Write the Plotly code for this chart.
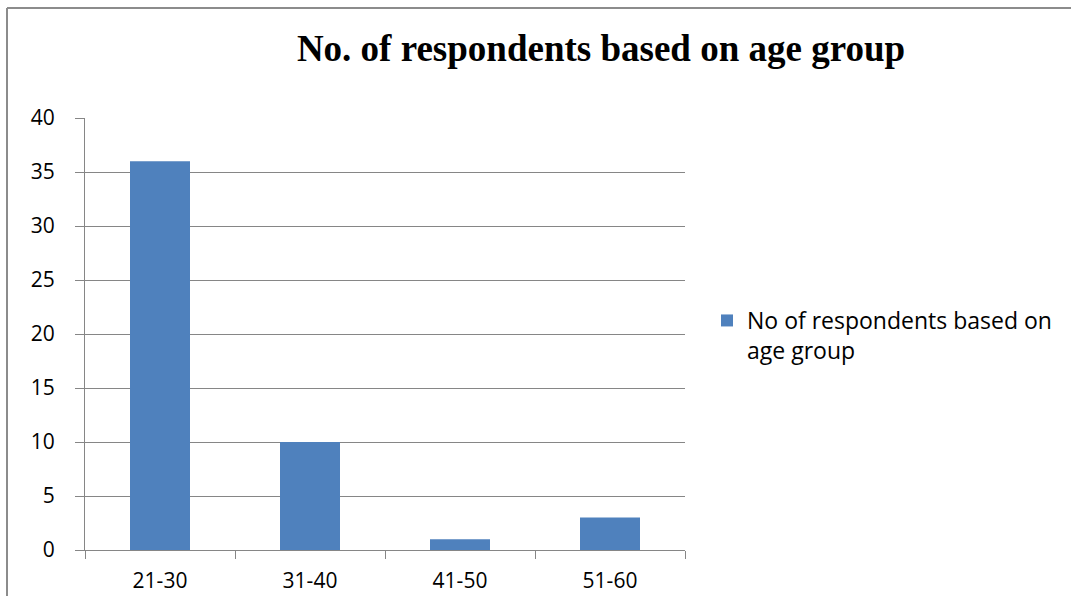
import plotly.graph_objects as go

# Survey counts per age group
age_groups = ["21-30", "31-40", "41-50", "51-60"]
respondents = [36, 10, 1, 3]
y_ticks = [0, 5, 10, 15, 20, 25, 30, 35, 40]

series_name = "No of respondents based on<br>age group"
chart_title = "<b>No. of respondents based on age group</b>"

W, H = 1071, 596
L, R, T, B = 85, 386, 118, 46          # plot area: x 85..685, y 118..550
pw, ph = W - L - R, H - T - B

def px_x(x):
    return (x - L) / pw

def px_y(y):
    return (H - B - y) / ph

grid = "#868686"
sans = "Open Sans, Noto Sans, sans-serif"

fig = go.Figure(
    go.Bar(
        x=age_groups,
        y=respondents,
        name=series_name,
        marker=dict(color="#4F81BD", line=dict(width=0)),
        showlegend=True,
    )
)

fig.update_layout(
    width=W,
    height=H,
    margin=dict(l=L, r=R, t=T, b=B, autoexpand=False),
    paper_bgcolor="white",
    plot_bgcolor="white",
    bargap=0.6,
    font=dict(family=sans, size=21, color="black"),
    title=dict(
        text=chart_title,
        font=dict(family="Liberation Serif, Times New Roman, serif", size=37, color="black"),
        x=px_x(601),
        xref="paper",
        xanchor="center",
        y=1 - 48 / H,
        yref="container",
        yanchor="middle",
    ),
    legend=dict(
        x=px_x(707),
        y=px_y(299),
        xanchor="left",
        yanchor="top",
        valign="top",
        font=dict(family=sans, size=23, color="black"),
        bgcolor="rgba(0,0,0,0)",
        itemclick=False,
    ),
    xaxis=dict(
        type="category",
        automargin=False,
        showgrid=False,
        showline=True,
        linecolor=grid,
        linewidth=1,
        ticks="outside",
        tickson="boundaries",
        ticklen=8,
        tickcolor=grid,
        ticklabelstandoff=12,
        tickfont=dict(family=sans, size=21),
    ),
    yaxis=dict(
        range=[0, 40],
        tickvals=y_ticks,
        automargin=False,
        showgrid=True,
        gridcolor=grid,
        gridwidth=1,
        showline=True,
        linecolor=grid,
        linewidth=1,
        ticks="outside",
        ticklen=9,
        tickcolor=grid,
        ticklabelstandoff=16,
        zeroline=False,
        tickfont=dict(family=sans, size=21),
    ),
    shapes=[
        # chart frame: left and top edges
        dict(type="line", xref="paper", yref="paper",
             x0=px_x(7), x1=px_x(7), y0=px_y(600), y1=px_y(8),
             line=dict(color="#8c8c8c", width=2)),
        dict(type="line", xref="paper", yref="paper",
             x0=px_x(7), x1=px_x(1075), y0=px_y(8), y1=px_y(8),
             line=dict(color="#8c8c8c", width=2)),
    ],
)

fig.write_html("out.html")
